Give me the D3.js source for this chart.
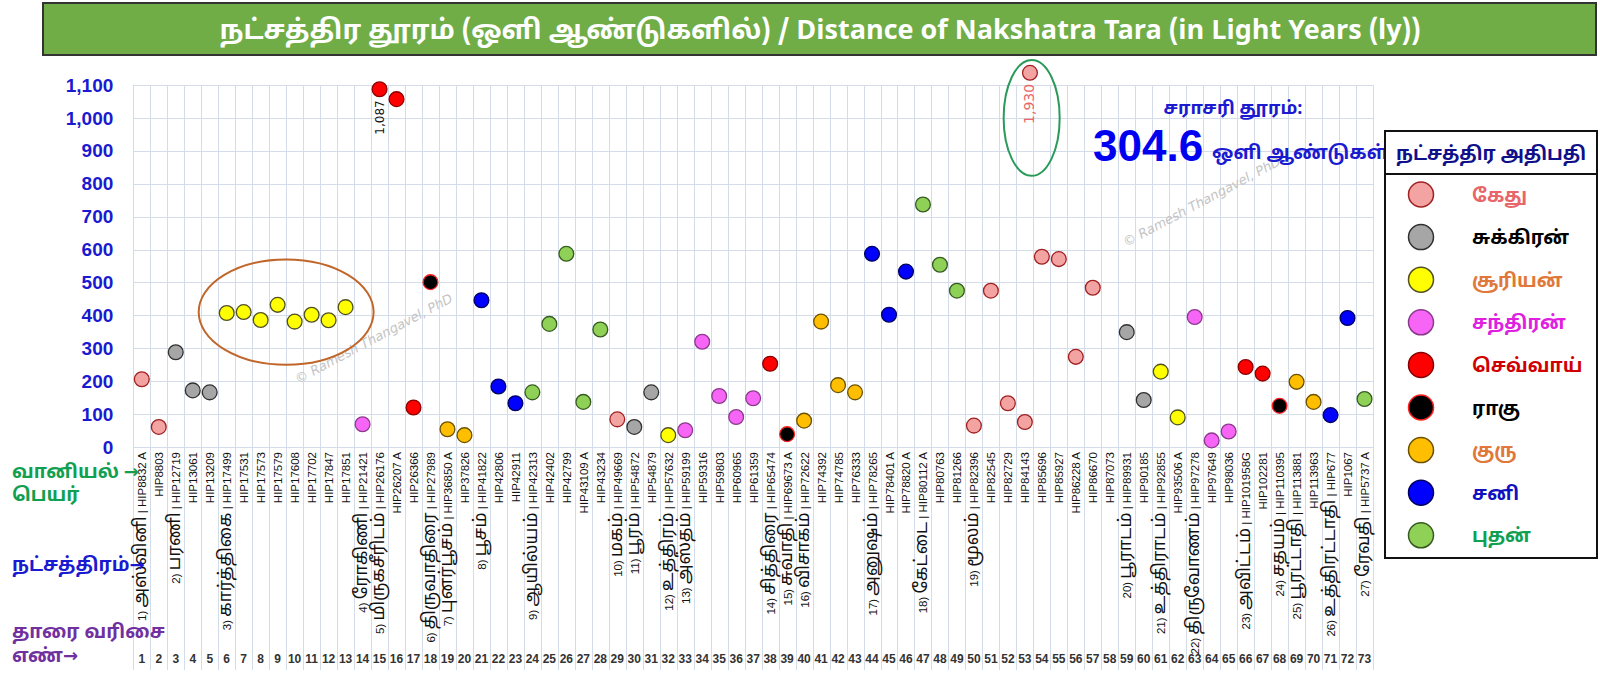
<!DOCTYPE html>
<html>
<head>
<meta charset="utf-8">
<script src="https://cdn.jsdelivr.net/npm/d3@7"></script>
<style>
  body { margin: 0; background: #fff; }
  svg { display: block; }
</style>
</head>
<body>
<script>
// distance of each star, light years (1..73)
var distances = [206, 61, 288, 172, 166, 407, 410, 386, 432, 381, 402, 385, 425,
  69, 1087, 1057, 120, 501, 54, 36, 446, 184, 133, 166, 374, 587, 137, 357,
  84, 61, 166, 36, 51, 320, 155, 91, 148, 253, 39, 80, 381, 188, 166,
  587, 402, 533, 737, 554, 475, 65, 475, 133, 76, 578, 571, 274, 484, 1930,
  349, 143, 229, 90, 395, 20, 47, 243, 223, 125, 198, 137, 97, 392, 146];

var hipIds = ["HIP8832 A", "HIP8803", "HIP12719", "HIP13061", "HIP13209",
  "HIP17499", "HIP17531", "HIP17573", "HIP17579", "HIP17608", "HIP17702", "HIP17847", "HIP17851",
  "HIP21421", "HIP26176", "HIP26207 A", "HIP26366", "HIP27989", "HIP36850 A", "HIP37826",
  "HIP41822", "HIP42806", "HIP42911", "HIP42313", "HIP42402", "HIP42799", "HIP43109 A", "HIP43234",
  "HIP49669", "HIP54872", "HIP54879", "HIP57632", "HIP59199", "HIP59316", "HIP59803", "HIP60965", "HIP61359",
  "HIP65474", "HIP69673 A", "HIP72622", "HIP74392", "HIP74785", "HIP76333",
  "HIP78265", "HIP78401 A", "HIP78820 A", "HIP80112 A", "HIP80763", "HIP81266",
  "HIP82396", "HIP82545", "HIP82729", "HIP84143", "HIP85696", "HIP85927", "HIP86228 A", "HIP86670", "HIP87073",
  "HIP89931", "HIP90185", "HIP92855", "HIP93506 A", "HIP97278", "HIP97649", "HIP98036",
  "HIP101958G", "HIP102281", "HIP110395", "HIP113881", "HIP113963", "HIP677", "HIP1067", "HIP5737 A"];

var nakshatraNames = ["அஸ்வினி", "பரணி", "கார்த்திகை", "ரோகிணி", "மிருகசீரிடம்", "திருவாதிரை",
  "புனர்பூசம்", "பூசம்", "ஆயில்யம்", "மகம்", "பூரம்", "உத்திரம்", "அஸ்தம்", "சித்திரை",
  "சுவாதி", "விசாகம்", "அனுஷம்", "கேட்டை", "மூலம்", "பூராடம்", "உத்திராடம்", "திருவோணம்",
  "அவிட்டம்", "சதயம்", "பூரட்டாதி", "உத்திரட்டாதி", "ரேவதி"];

// how many stars each nakshatra has
var starCounts = [2, 3, 8, 1, 3, 1, 2, 3, 5, 1, 2, 1, 5, 1, 1, 4, 3, 3, 9, 2, 2, 3, 2, 1, 2, 2, 1];

// lords repeat every 9 nakshatras
var lordNames = ["கேது", "சுக்கிரன்", "சூரியன்", "சந்திரன்", "செவ்வாய்", "ராகு", "குரு", "சனி", "புதன்"];

var yTicks = [0, 100, 200, 300, 400, 500, 600, 700, 800, 900, 1000, 1100];
var labelledStars = [15, 58];
var averageDistance = "304.6";

// styles per lord
var lordFill = {"கேது": "#f4a3a3", "சுக்கிரன்": "#a6a6a6", "சூரியன்": "#ffff00", "சந்திரன்": "#f765f7",
  "செவ்வாய்": "#ff0000", "ராகு": "#000000", "குரு": "#ffbf00", "சனி": "#0000ff", "புதன்": "#8fd057"};
var lordStroke = {"கேது": "#a02020", "சுக்கிரன்": "#303030", "சூரியன்": "#505020", "சந்திரன்": "#8a3a8a",
  "செவ்வாய்": "#8a0000", "ராகு": "#ff2020", "குரு": "#6a5000", "சனி": "#000060", "புதன்": "#365a20"};
var lordText = {"கேது": "#e8666a", "சுக்கிரன்": "#000000", "சூரியன்": "#e0783a", "சந்திரன்": "#e020e0",
  "செவ்வாய்": "#d00000", "ராகு": "#000000", "குரு": "#e0783a", "சனி": "#1010c0", "புதன்": "#10a050"};

var tamilFont = "'Noto Sans Tamil', 'Latha', 'Noto Sans', sans-serif";

(function(){
  var width = 1600;
  var height = 682;

  var svg = d3.select("body").append("svg")
    .attr("width", width)
    .attr("height", height);

  // one row per star
  var stars = [];
  var n = 1;
  nakshatraNames.forEach(function(name, i){
    for (var k = 0; k < starCounts[i]; k++) {
      stars.push({num: n, nak: i + 1, first: k == 0, name: name,
        lord: lordNames[i % 9], hip: hipIds[n - 1], value: distances[n - 1]});
      n++;
    }
  });

  var xScale = d3.scaleLinear().domain([0.5, stars.length + 0.5]).range([133.3, 1373]);
  var yScale = d3.scaleLinear().domain([0, 1100]).range([447, 85]);
  var bw = xScale(1) - xScale(0);
  var shownMax = 1137;      // off-scale stars sit just above the top line
  var offScaleAt = 53.3;    // where the 1,930 star is parked in the picture

  // title bar
  svg.append("rect")
    .attr("x", 43).attr("y", 3).attr("width", 1553).attr("height", 52)
    .attr("fill", "#70ad47").attr("stroke", "#333").attr("stroke-width", 2);
  svg.append("text")
    .attr("x", 820).attr("y", 39)
    .attr("text-anchor", "middle")
    .attr("fill", "#fff")
    .attr("font-weight", "bold")
    .attr("font-size", 27)
    .attr("font-family", "'Liberation Sans Narrow', " + tamilFont)
    .text("நட்சத்திர தூரம் (ஒளி ஆண்டுகளில்) / Distance of Nakshatra Tara (in Light Years (ly))");

  // grid
  var grid = svg.append("g").attr("stroke", "#d5dce9").attr("stroke-width", 1);
  grid.selectAll("line.h")
    .data(yTicks)
    .enter().append("line")
    .attr("class", "h")
    .attr("x1", xScale(0.5)).attr("x2", xScale(stars.length + 0.5))
    .attr("y1", function(d){ return Math.round(yScale(d)) + 0.5; })
    .attr("y2", function(d){ return Math.round(yScale(d)) + 0.5; });
  grid.selectAll("line.v")
    .data(d3.range(0.5, stars.length + 1, 1))
    .enter().append("line")
    .attr("class", "v")
    .attr("x1", function(d){ return Math.round(xScale(d)) + 0.5; })
    .attr("x2", function(d){ return Math.round(xScale(d)) + 0.5; })
    .attr("y1", yScale(1100)).attr("y2", 670);

  // y axis
  var yAxis = svg.append("g")
    .attr("transform", "translate(" + xScale(0.5) + ",0)")
    .call(d3.axisLeft(yScale).tickValues(yTicks).tickFormat(d3.format(",")).tickSize(0).tickPadding(20));
  yAxis.select(".domain").remove();
  yAxis.selectAll("text")
    .attr("fill", "#1a1ad0")
    .attr("font-size", 19)
    .attr("font-weight", "bold")
    .attr("font-family", "'Liberation Sans', Arial, sans-serif");

  // watermarks
  [[298, 384], [1126, 247]].forEach(function(p){
    svg.append("text")
      .attr("transform", "translate(" + p[0] + "," + p[1] + ") rotate(-28)")
      .attr("fill", "#c4c4c4")
      .attr("font-size", 13)
      .attr("font-style", "italic")
      .attr("font-family", "'DejaVu Sans', sans-serif")
      .text("© Ramesh Thangavel, PhD");
  });

  // brown ellipse around Karthigai cluster
  svg.append("ellipse")
    .attr("cx", xScale(9.5)).attr("cy", yScale(410))
    .attr("rx", bw * 5.15).attr("ry", yScale(0) - yScale(160))
    .attr("fill", "none").attr("stroke", "#c0662a").attr("stroke-width", 2);

  // green ellipse around off-scale star
  svg.append("ellipse")
    .attr("cx", xScale(offScaleAt + 0.1)).attr("cy", yScale(1000))
    .attr("rx", bw * 1.65).attr("ry", yScale(0) - yScale(176))
    .attr("fill", "none").attr("stroke", "#2a9a5a").attr("stroke-width", 2);

  var px = function(d){ return d.value > 1100 ? xScale(offScaleAt) : xScale(d.num); };
  var py = function(d){ return yScale(Math.min(d.value, shownMax)); };

  // points
  svg.selectAll("circle.star")
    .data(stars)
    .enter().append("circle")
    .attr("class", "star")
    .attr("r", 7.4)
    .attr("cx", px)
    .attr("cy", py)
    .attr("fill", function(d){ return lordFill[d.lord]; })
    .attr("stroke", function(d){ return lordStroke[d.lord]; })
    .attr("stroke-width", 1.3);

  // data labels
  svg.selectAll("text.dlabel")
    .data(stars.filter(function(d){ return labelledStars.indexOf(d.num) >= 0; }))
    .enter().append("text")
    .attr("class", "dlabel")
    .attr("transform", function(d){
      return "translate(" + (px(d) + 4) + "," + (py(d) + 11) + ") rotate(-90)";
    })
    .attr("text-anchor", "end")
    .attr("fill", function(d){ return d.value > 1100 ? "#e8666a" : "#111"; })
    .attr("font-size", function(d){ return d.value > 1100 ? 14 : 12; })
    .attr("font-family", "'DejaVu Sans', sans-serif")
    .text(function(d){ return d3.format(",")(d.value); });

  // average box
  svg.append("text")
    .attr("x", 1233).attr("y", 114)
    .attr("text-anchor", "middle")
    .attr("fill", "#1a1ad0").attr("font-weight", "bold").attr("font-size", 18)
    .attr("font-family", tamilFont)
    .text("சராசரி தூரம்:");
  svg.append("text")
    .attr("x", 1093).attr("y", 161)
    .attr("fill", "#0000f0").attr("font-weight", "bold").attr("font-size", 44)
    .attr("font-family", "'Liberation Sans', Arial, sans-serif")
    .text(averageDistance);
  svg.append("text")
    .attr("x", 1212).attr("y", 159)
    .attr("fill", "#1a1ad0").attr("font-weight", "bold").attr("font-size", 19)
    .attr("font-family", tamilFont)
    .text("ஒளி ஆண்டுகள்");

  // x labels (rotated, baseline just right of the column centre)
  var lab = svg.selectAll("text.xlab")
    .data(stars)
    .enter().append("text")
    .attr("class", "xlab")
    .attr("transform", function(d){ return "translate(" + (xScale(d.num) + 4.5) + ",452) rotate(-90)"; })
    .attr("text-anchor", "end")
    .attr("fill", "#111");
  lab.filter(function(d){ return d.first; }).each(function(d){
    var t = d3.select(this);
    t.append("tspan").attr("font-size", 11.5).attr("font-family", "'Liberation Sans', sans-serif")
      .text(d.nak + ") ");
    t.append("tspan").attr("font-size", 17.5).attr("font-family", tamilFont).text(d.name);
    t.append("tspan").attr("font-size", 11.5).attr("font-family", "'Liberation Sans', sans-serif")
      .text(" | " + d.hip);
  });
  lab.filter(function(d){ return !d.first; })
    .attr("font-size", 11.5).attr("font-family", "'Liberation Sans', sans-serif")
    .text(function(d){ return d.hip; });

  // star number row
  svg.selectAll("text.num")
    .data(stars)
    .enter().append("text")
    .attr("class", "num")
    .attr("x", function(d){ return xScale(d.num); })
    .attr("y", 663)
    .attr("text-anchor", "middle")
    .attr("font-size", 12).attr("font-weight", "bold")
    .attr("font-family", "'Liberation Sans', sans-serif")
    .attr("fill", "#333")
    .text(function(d){ return d.num; });

  // left side captions
  var caps = [["வானியல் ", true, 478, "#10a050"], ["பெயர்", false, 501, "#10a050"],
    ["நட்சத்திரம்", true, 571, "#1a1ad0"], ["தாரை வரிசை", false, 638, "#7030a0"], ["எண்", true, 662, "#7030a0"]];
  var cap = svg.selectAll("text.cap")
    .data(caps)
    .enter().append("text")
    .attr("class", "cap")
    .attr("x", 12).attr("y", function(d){ return d[2]; })
    .attr("fill", function(d){ return d[3]; })
    .attr("font-size", 19).attr("font-weight", "bold");
  cap.append("tspan").attr("font-family", tamilFont).text(function(d){ return d[0]; });
  cap.filter(function(d){ return d[1]; })
    .append("tspan").attr("font-family", "'DejaVu Sans', sans-serif").attr("font-size", 18)
    .text("→");

  // legend
  var lg = svg.append("g");
  lg.append("rect")
    .attr("x", 1385).attr("y", 131).attr("width", 212).attr("height", 427)
    .attr("fill", "#fff").attr("stroke", "#111").attr("stroke-width", 2);
  lg.append("line")
    .attr("x1", 1385).attr("x2", 1597).attr("y1", 174).attr("y2", 174)
    .attr("stroke", "#111").attr("stroke-width", 2);
  lg.append("text")
    .attr("x", 1491).attr("y", 160).attr("text-anchor", "middle")
    .attr("fill", "#10108a").attr("font-size", 19).attr("font-weight", "bold")
    .attr("font-family", tamilFont)
    .text("நட்சத்திர அதிபதி");
  var item = lg.selectAll("g.item")
    .data(lordNames)
    .enter().append("g")
    .attr("class", "item")
    .attr("transform", function(d, i){ return "translate(0," + (194.5 + i * 42.6) + ")"; });
  item.append("circle")
    .attr("cx", 1421).attr("r", 12.5)
    .attr("fill", function(d){ return lordFill[d]; })
    .attr("stroke", function(d){ return lordStroke[d]; })
    .attr("stroke-width", 1.5);
  item.append("text")
    .attr("x", 1472).attr("y", 7)
    .attr("fill", function(d){ return lordText[d]; })
    .attr("font-size", 19).attr("font-weight", "bold")
    .attr("font-family", tamilFont)
    .text(function(d){ return d; });
})();
</script>
</body>
</html>
